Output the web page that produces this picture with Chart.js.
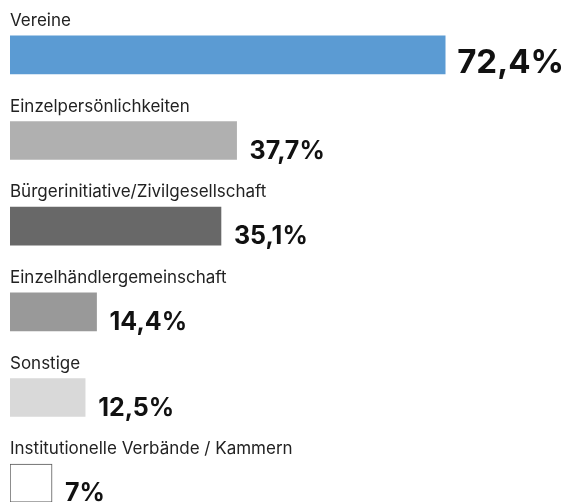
<!DOCTYPE html>
<html>
<head>
<meta charset="utf-8">
<script src="https://cdn.jsdelivr.net/npm/chart.js@4"></script>
<style>
  html, body { margin: 0; padding: 0; background: #fff; overflow: hidden; }
  #wrap { width: 569px; height: 526px; position: relative; }
</style>
</head>
<body>
<div id="wrap"><canvas id="chart"></canvas></div>
<script>
const categories = [
  'Vereine',
  'Einzelpersönlichkeiten',
  'Bürgerinitiative/Zivilgesellschaft',
  'Einzelhändlergemeinschaft',
  'Sonstige',
  'Institutionelle Verbände / Kammern',
];
const shares = [72.4, 37.7, 35.1, 14.4, 12.5, 7];
const barColors = ['#5b9bd3', '#b0b0b0', '#686868', '#999999', '#d9d9d9', '#ffffff'];
const borderColors = ['#5b9bd3', '#b0b0b0', '#686868', '#999999', '#d9d9d9', '#555555'];
const borderWidths = [0, 0, 0, 0, 0, 1];

const fontFamily = 'Inter, "Noto Sans", sans-serif';

// Category name above each bar, percentage to the right of it
const barLabels = {
  id: 'barLabels',
  afterDatasetsDraw(chart) {
    const ctx = chart.ctx;
    const meta = chart.getDatasetMeta(0);
    ctx.save();
    meta.data.forEach((bar, i) => {
      const half = bar.height / 2;
      ctx.textBaseline = 'alphabetic';
      ctx.textAlign = 'left';

      ctx.fillStyle = '#222';
      ctx.font = '17px ' + fontFamily;
      ctx.fillText(categories[i], chart.chartArea.left, bar.y - half - 10);

      const big = i === 0;
      ctx.fillStyle = '#111';
      ctx.font = 'bold ' + (big ? 33 : 25) + 'px ' + fontFamily;
      const text = String(shares[i]).replace('.', ',') + '%';
      ctx.fillText(text, bar.x + (big ? 12 : 13), bar.y + half - 1);
    });
    ctx.restore();
  },
};

new Chart(document.getElementById('chart'), {
  type: 'bar',
  data: {
    labels: categories,
    datasets: [
      {
        data: shares,
        backgroundColor: barColors,
        borderColor: borderColors,
        borderWidth: borderWidths,
        borderSkipped: false,
        barThickness: 38,
      },
    ],
  },
  options: {
    indexAxis: 'y',
    responsive: true,
    maintainAspectRatio: false,
    animation: false,
    layout: {
      padding: { top: 12, left: 10, right: 0, bottom: 0 },
    },
    plugins: {
      legend: { display: false },
      tooltip: { enabled: false },
    },
    scales: {
      x: { display: false, min: 0, max: 93 },
      y: { display: false, offset: true },
    },
  },
  plugins: [barLabels],
});
</script>
</body>
</html>
